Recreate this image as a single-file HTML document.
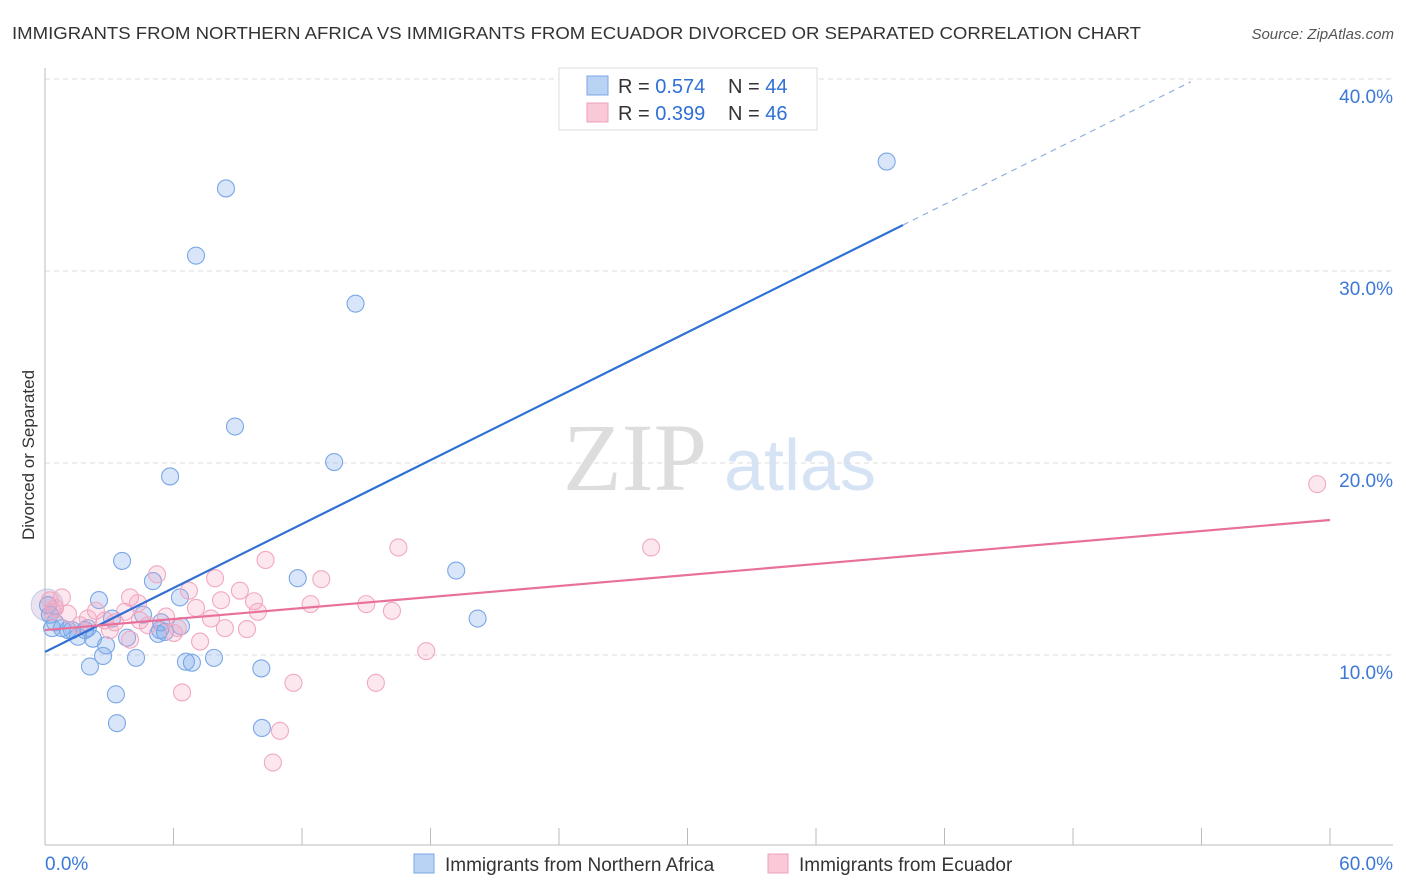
<!DOCTYPE html>
<html><head><meta charset="utf-8"><style>
body{margin:0;background:#fff;font-family:"Liberation Sans",sans-serif;}
svg{display:block}
</style></head><body>
<svg id="chart" width="1406" height="892">
<text x="12" y="39" font-size="17.5" fill="#333" textLength="1129" lengthAdjust="spacingAndGlyphs">IMMIGRANTS FROM NORTHERN AFRICA VS IMMIGRANTS FROM ECUADOR DIVORCED OR SEPARATED CORRELATION CHART</text>
<text x="1394" y="39" font-size="15" fill="#555" font-style="italic" text-anchor="end">Source: ZipAtlas.com</text>
<text x="34" y="455" font-size="17" fill="#333" text-anchor="middle" transform="rotate(-90 34 455)">Divorced or Separated</text>
<g>
<text x="635" y="490" font-size="96" fill="#ddd" font-family="Liberation Serif,serif" text-anchor="middle">ZIP</text>
<text x="800" y="490" font-size="72" fill="#d5e3f5" text-anchor="middle">atlas</text>
</g>
<g id="grid"></g><g id="axes"></g><g id="pts"></g><g id="lines"></g>
<g>
<rect x="559" y="68" width="258" height="62" fill="#fff" stroke="#ddd"/>
<rect x="587" y="76" width="21" height="19" fill="#b9d3f5" stroke="#7aa7e6"/>
<text x="618" y="93" font-size="20" fill="#333">R = <tspan fill="#2f6fd6">0.574</tspan><tspan x="728">N = </tspan><tspan fill="#2f6fd6">44</tspan></text>
<rect x="587" y="103" width="21" height="19" fill="#f9c9d8" stroke="#f0a0b8"/>
<text x="618" y="120" font-size="20" fill="#333">R = <tspan fill="#2f6fd6">0.399</tspan><tspan x="728">N = </tspan><tspan fill="#2f6fd6">46</tspan></text>
</g>
<g>
<rect x="414" y="854" width="20" height="19" fill="#b9d3f5" stroke="#7aa7e6"/>
<text x="445" y="871" font-size="19" fill="#333">Immigrants from Northern Africa</text>
<rect x="768" y="854" width="20" height="19" fill="#f9c9d8" stroke="#f0a0b8"/>
<text x="799" y="871" font-size="19" fill="#333">Immigrants from Ecuador</text>
</g>
</svg>
<script>
const yTicks=[10,20,30,40];
const yTickLabels=["10.0%","20.0%","30.0%","40.0%"];
const xTicks=[0,6,12,18,24,30,36,42,48,54,60];
const xEndLabels=["0.0%","60.0%"];
const blueX=[8.45,7.05,14.5,39.3,8.87,13.5,5.84,3.6,5.04,11.8,19.2,2.52,6.3,20.2,4.58,5.42,6.35,5.6,3.13,0.47,0.79,1.26,1.87,0.33,1.54,2.24,3.83,5.28,2.85,2.71,4.25,6.58,6.86,7.89,2.1,10.1,3.31,3.36,10.13,0.14,0.23,1.07,2.0,5.37];
const blueY=[34.3,30.8,28.3,35.7,21.9,20.05,19.3,14.9,13.85,14.0,14.4,12.86,13.0,11.9,12.1,11.7,11.5,11.2,11.9,11.7,11.4,11.3,11.3,11.4,10.95,10.85,10.9,11.1,10.5,9.95,9.85,9.65,9.6,9.85,9.4,9.3,7.95,6.45,6.2,12.6,12.1,11.3,11.4,11.3];
const pinkX=[59.4,16.5,28.3,10.3,5.23,12.9,7.94,6.72,9.1,3.97,0.79,9.76,4.34,12.4,15.0,2.38,3.73,7.05,8.22,9.94,16.2,5.65,7.75,0.47,1.07,3.27,4.81,8.4,9.43,6.02,7.24,17.8,11.6,15.45,6.4,10.97,10.64,0.33,1.63,2.8,0.23,3.03,4.43,2.0,3.97,6.2];
const pinkY=[18.9,15.6,15.6,14.95,14.2,13.95,14.0,13.35,13.35,13.0,13.0,12.8,12.7,12.65,12.65,12.3,12.25,12.45,12.85,12.25,12.3,12.0,11.9,12.45,12.15,11.7,11.55,11.4,11.35,11.15,10.7,10.2,8.55,8.55,8.05,6.05,4.4,12.25,11.55,11.8,12.85,11.3,11.8,11.9,10.8,11.4];
const blueTrend=[10.16,0.555];
const pinkTrend=[11.3,0.0955];
const NS="http://www.w3.org/2000/svg";
const xs=v=>45+v*(1285/60);
const ys=v=>655-(v-10)*19.2;
function mk(tag,attrs,parent){const e=document.createElementNS(NS,tag);for(const k in attrs)e.setAttribute(k,attrs[k]);document.getElementById(parent).appendChild(e);return e;}
yTicks.forEach((t,i)=>{
 const l=mk('line',{x1:45,x2:1393,y1:ys(t),y2:ys(t),stroke:'#ddd','stroke-dasharray':'5,4'},'grid');
 
 
 const tx=mk('text',{x:1393,y:ys(t)+24,'font-size':19,fill:'#3b78d8','text-anchor':'end'},'grid');
 tx.textContent=yTickLabels[i];
 
 
});
const ya=mk('line',{x1:45,x2:45,y1:68,y2:845,stroke:'#bbb'},'axes');


const xa=mk('line',{x1:45,x2:1393,y1:845,y2:845,stroke:'#bbb'},'axes');


xTicks.forEach(t=>{
 const l=mk('line',{x1:xs(t),x2:xs(t),y1:828,y2:845,stroke:'#bbb'},'axes');
 
 
});
const xl0=mk('text',{x:45,y:870,'font-size':19,fill:'#3b78d8'},'axes');xl0.textContent=xEndLabels[0];


const xl1=mk('text',{x:1393,y:870,'font-size':19,fill:'#3b78d8','text-anchor':'end'},'axes');xl1.textContent=xEndLabels[1];


const big1=mk('circle',{cx:xs(0.1),cy:ys(12.6),r:16,fill:'rgba(200,170,210,0.35)',stroke:'rgba(150,170,220,0.5)'},'pts');


blueX.forEach((x,i)=>{
 const c=mk('circle',{cx:xs(x),cy:ys(blueY[i]),r:8.5,fill:'rgba(120,165,235,0.28)',stroke:'#7aa7e6','stroke-width':1.1},'pts');
 
 
});
pinkX.forEach((x,i)=>{
 const c=mk('circle',{cx:xs(x),cy:ys(pinkY[i]),r:8.5,fill:'rgba(245,160,190,0.25)',stroke:'#f2a8c0','stroke-width':1.1},'pts');
 
 
});
const bt=x=>blueTrend[0]+blueTrend[1]*x, pt=x=>pinkTrend[0]+pinkTrend[1]*x;
const b1=mk('line',{x1:xs(0),y1:ys(bt(0)),x2:xs(40.06),y2:ys(bt(40.06)),stroke:'#2f6fd6','stroke-width':2.2},'lines');


const b2=mk('line',{x1:xs(40.06),y1:ys(bt(40.06)),x2:xs(53.5),y2:ys(bt(53.5)),stroke:'#8fb0e0','stroke-width':1.2,'stroke-dasharray':'6,5'},'lines');


const p1=mk('line',{x1:xs(0),y1:ys(pt(0)),x2:xs(60),y2:ys(pt(60)),stroke:'#e8709a','stroke-width':2.2},'lines');


</script>
</body></html>
